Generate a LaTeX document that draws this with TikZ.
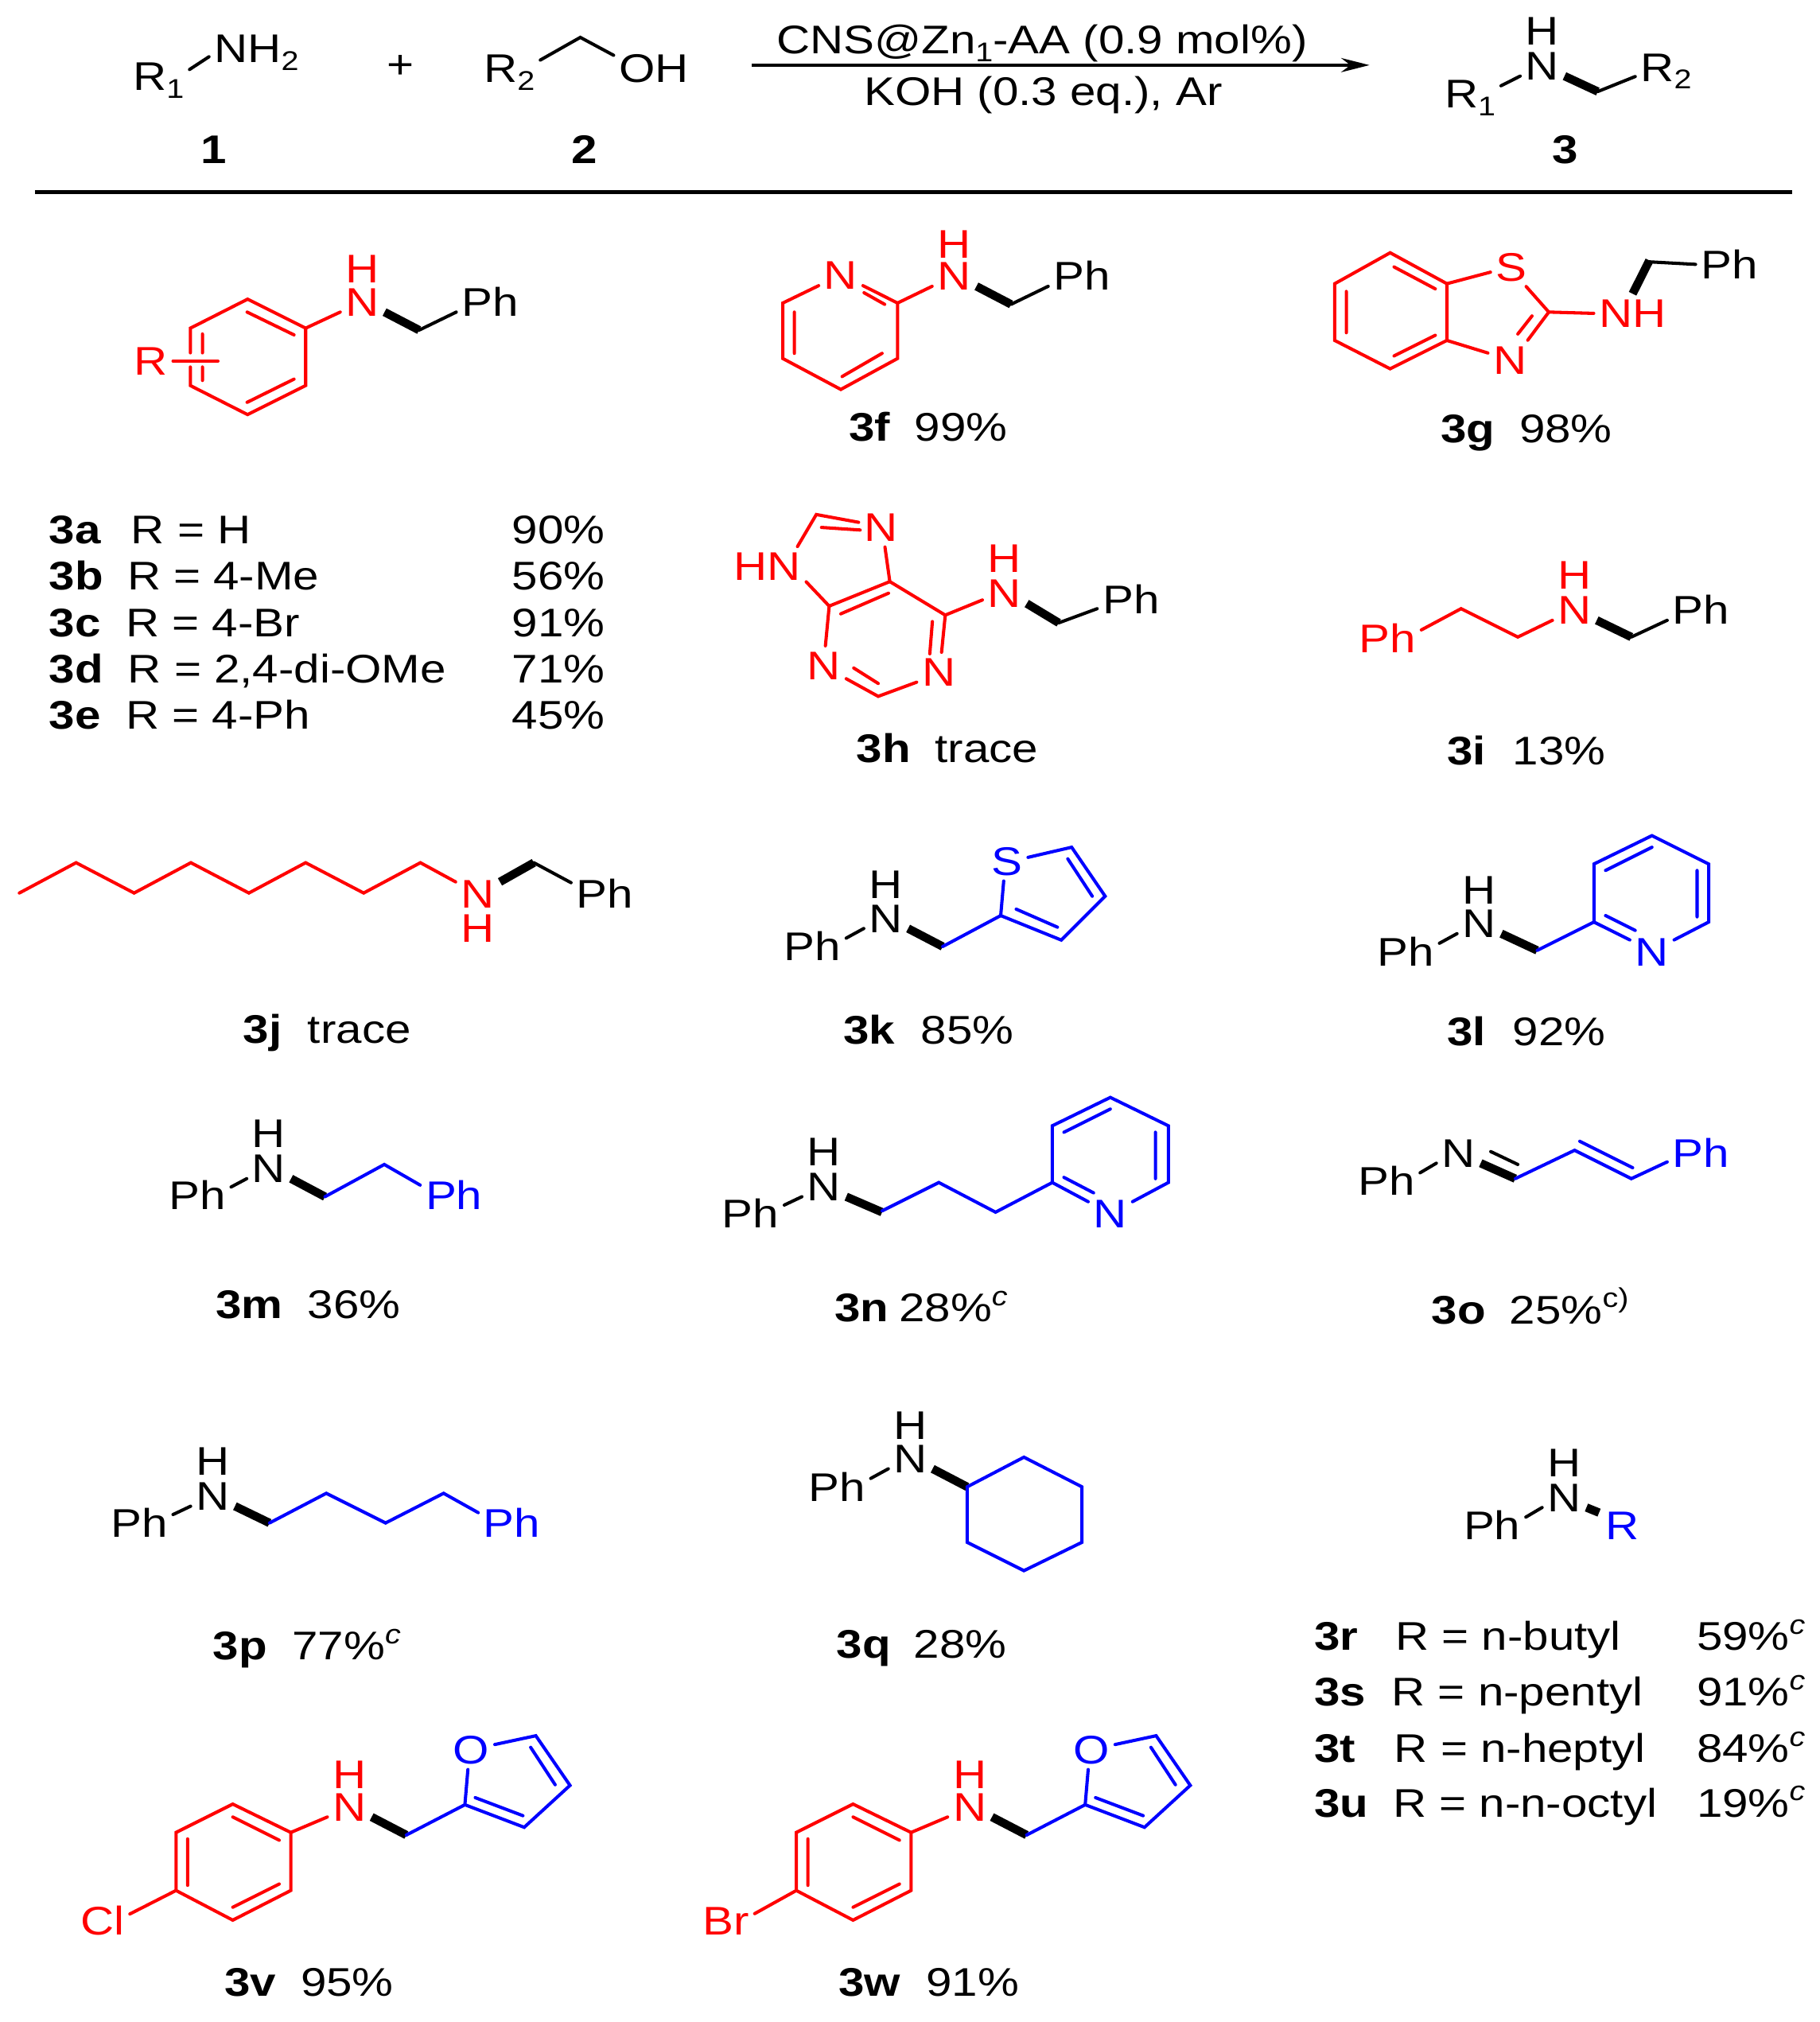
\documentclass[tikz,border=0pt]{standalone}
\usepackage{fontspec}
\usepackage{tikz}
\usetikzlibrary{arrows.meta}
\setmainfont[FakeStretch=1.16]{Liberation Sans}
\newcommand{\lowno}[1]{\raisebox{-6pt}{\fontsize{21}{24}\selectfont #1}}
\newcommand{\supc}{\raisebox{12.5pt}{\fontsize{21}{24}\selectfont\itshape c}}

\begin{document}
\begin{tikzpicture}[x=1pt,y=-1pt,
  every node/.style={font=\fontsize{31}{36}\selectfont},
  atom/.style={inner sep=4pt,text height=22pt,text depth=0pt},
  lab/.style={inner sep=0pt,anchor=base west},
  bond/.style={line width=2.5pt,line cap=round,line join=miter},
  wedge/.style={line width=6.5pt,line cap=butt},
  rule/.style={line width=2.6pt}]
  \useasboundingbox (0,0) rectangle (1411,1568);

  \node[atom] (r1) at (123,59) {R\lowno{1}};
  \node[atom] (nh2) at (199,37.5) {NH\lowno{2}};
  \draw[bond] (r1.12) -- (nh2.190);
  \node[atom] (plus) at (310.5,49.6) {+};
  \node[atom] (r2) at (395,53) {R\lowno{2}};
  \node[atom] (oh) at (507,53) {OH};
  \draw[bond] (r2.15) -- (450,29) -- (oh.162);
  \coordinate (arr0) at (583,50.5);
  \coordinate (arr1) at (1062,50.5);
  \draw[line width=2.5pt,-{Stealth[length=22pt,width=11pt]}] (arr0) -- (arr1);
  \node[atom] (cond1) at (808,30.5) {CNS@Zn\lowno{1}-AA (0.9 mol\%)};
  \node[atom] (cond2) at (809,70.5) {KOH (0.3 eq.), Ar};
  \node[atom] (r1p) at (1140,72.5) {R\lowno{1}};
  \node[atom] (np) at (1196,51) {N};
  \node[atom] (hp) at (1196,24) {H};
  \node[atom] (r2p) at (1292,52) {R\lowno{2}};
  \draw[bond] (r1p.14) -- (np.205);
  \draw[wedge] (np.-25) -- (1239,71);
  \draw[bond] (1239,71) -- (r2p.197);
  \node[atom] (no1) at (166,116) {\textbf{1}};
  \node[atom] (no2) at (453,116) {\textbf{2}};
  \node[atom] (no3) at (1214,116) {\textbf{3}};
  \coordinate (rule0) at (27,149);
  \coordinate (rule1) at (1390,149);
  \draw[rule] (rule0) -- (rule1);

  % 3a-3e
  \node[atom,red] (r3a) at (117,280) {R};
  \node[atom,red] (n3a) at (281,234) {N};
  \node[atom,red] (h3a) at (281,208) {H};
  \node[atom] (ph3a) at (380,234) {Ph};
  \draw[bond,red] (147.6,273.6) -- (147.6,254.5) -- (192,232) -- (237,254.5) -- (237,299) -- (192,321.5) -- (147.6,299) -- (147.6,284.6);
  \draw[bond,red] (191.6,242) -- (228,259.7) (228,294) -- (191.6,312) (157,259) -- (157,273.6) (157,284.6) -- (157,295);
  \draw[bond,red] (r3a.east) -- (169,280);
  \draw[bond,red] (237,254.5) -- (n3a.205);
  \draw[wedge] (n3a.-25) -- (325,256);
  \draw[bond] (325,256) -- (ph3a.197);
  \foreach \nm/\rr/\xr/\yy/\pc in {3a/H/101.5/421.5/90,3b/4-Me/98.5/457.5/56,3c/4-Br/97.5/493.5/91,3d/{2,4-di-OMe}/99/529.5/71,3e/4-Ph/97.5/565.5/45}{
    \node[lab] (lab\nm) at (38,\yy) {\textbf{\nm}};
    \node[lab] (sub\nm) at (\xr,\yy) {R = \rr};
    \node[lab] (yld\nm) at (397,\yy) {\pc\%};
  }

  % 3f
  \node[atom,red] (na3f) at (652,213.5) {N};
  \node[atom,red] (n3f) at (740,214) {N};
  \node[atom,red] (h3f) at (740,189) {H};
  \node[atom] (ph3f) at (839,214) {Ph};
  \draw[bond,red] (na3f.-25) -- (696,235) -- (696,278) -- (652,302) -- (607,278) -- (607,235) -- (na3f.205);
  \draw[bond,red] (670,227) -- (686,236) (684,274) -- (653,292) (616,242) -- (616,274);
  \draw[bond,red] (696,235) -- (n3f.205);
  \draw[wedge] (n3f.-25) -- (784,236);
  \draw[bond] (784,236) -- (ph3f.197);
  \node[lab] (lab3f) at (658,342) {\textbf{3f}};
  \node[lab] (yld3f) at (709,342) {99\%};

  % 3g
  \node[atom,red] (s3g) at (1172,207) {S};
  \node[atom,red] (na3g) at (1171,279) {N};
  \node[atom,red] (nh3g) at (1266,243) {NH};
  \node[atom] (ph3g) at (1341,205) {Ph};
  \draw[bond,red] (1122,220) -- (1078,196) -- (1035,220) -- (1035,264) -- (1078,286) -- (1122,264) -- cycle;
  \draw[bond,red] (1081,207) -- (1113,224) (1113,260) -- (1081,276) (1044,226) -- (1044,258);
  \draw[bond,red] (1122,220) -- (s3g.194) (1122,264) -- (na3g.163);
  \draw[bond,red] (s3g.-53) -- (1201,242) -- (na3g.48) (1177,259) -- (1188,245);
  \draw[bond,red] (1201,242) -- (nh3g.west);
  \draw[wedge] (nh3g.north) -- (1279,202);
  \draw[bond] (1278,203) -- (ph3g.west);
  \node[lab] (lab3g) at (1117,343) {\textbf{3g}};
  \node[lab] (yld3g) at (1178,343) {98\%};

  % 3h
  \node[atom,red] (n7) at (683,409) {N};
  \node[atom,red] (n9) at (595,439) {HN};
  \node[atom,red] (n3) at (639,516) {N};
  \node[atom,red] (n1) at (728,521) {N};
  \node[atom,red] (n3h) at (779,460) {N};
  \node[atom,red] (h3h) at (779,433) {H};
  \node[atom] (ph3h) at (877,465) {Ph};
  \draw[bond,red] (n7.167) -- (633,399) -- (n9.33);
  \draw[bond,red] (n9.-22) -- (643,470) -- (690,451) -- (n7.-78);
  \draw[bond,red] (637,409) -- (667,411) (652,476) -- (689,460);
  \draw[bond,red] (643,470) -- (n3.86);
  \draw[bond,red] (690,451) -- (733,477) -- (n1.82);
  \draw[bond,red] (n3.-31) -- (681,540) -- (n1.205);
  \draw[bond,red] (723,482) -- (721,507) (662,518) -- (681,530);
  \draw[bond,red] (733,477) -- (n3h.197);
  \draw[wedge] (n3h.-25) -- (821,483);
  \draw[bond] (821,483) -- (ph3h.195);
  \node[lab] (lab3h) at (664,591) {\textbf{3h}};
  \node[lab] (yld3h) at (725,591) {trace};

  % 3i
  \node[atom,red] (pha3i) at (1076,495) {Ph};
  \node[atom,red] (n3i) at (1221,473) {N};
  \node[atom,red] (h3i) at (1221,446) {H};
  \node[atom] (ph3i) at (1319,473) {Ph};
  \draw[bond,red] (pha3i.14) -- (1133,472) -- (1177,494) -- (n3i.205);
  \draw[wedge] (n3i.-25) -- (1265,494);
  \draw[bond] (1265,494) -- (ph3i.197);
  \node[lab] (lab3i) at (1122,593) {\textbf{3i}};
  \node[lab] (yld3i) at (1173,593) {13\%};

  % 3j
  \node[atom,red] (n3j) at (370.5,693) {N};
  \node[atom,red] (h3j) at (370.5,719.5) {H};
  \node[atom] (ph3j) at (469,693) {Ph};
  \draw[bond,red] (15,692.5) -- (59,669) -- (104,692.5) -- (148,669) -- (193,692.5) -- (237,669) -- (282,692.5) -- (326,669) -- (n3j.152);
  \draw[wedge] (n3j.28) -- (414,669);
  \draw[bond] (414,669) -- (ph3j.162);
  \node[lab] (lab3j) at (188.5,809) {\textbf{3j}};
  \node[lab] (yld3j) at (238.5,809) {trace};

  % 3k
  \node[atom] (ph3k) at (630,734) {Ph};
  \node[atom] (n3k) at (687,712) {N};
  \node[atom] (h3k) at (687,686) {H};
  \node[atom,blue] (s3k) at (781,668) {S};
  \draw[bond] (ph3k.14) -- (n3k.205);
  \draw[wedge] (n3k.-25) -- (731,734);
  \draw[bond,blue] (731,734) -- (776,710) -- (s3k.-100);
  \draw[bond,blue] (s3k.11) -- (831,657) -- (857,695) -- (823,729) -- (776,710);
  \draw[bond,blue] (828,666) -- (847,695) (788,705) -- (820,719);
  \node[lab] (lab3k) at (654,809.5) {\textbf{3k}};
  \node[lab] (yld3k) at (714,809.5) {85\%};

  % 3l
  \node[atom] (ph3l) at (1090,738) {Ph};
  \node[atom] (n3l) at (1147,716) {N};
  \node[atom] (h3l) at (1147,690) {H};
  \node[atom,blue] (na3l) at (1281,738) {N};
  \draw[bond] (ph3l.14) -- (n3l.205);
  \draw[wedge] (n3l.-25) -- (1192,737);
  \draw[bond,blue] (1192,737) -- (1236,715);
  \draw[bond,blue] (na3l.152) -- (1236,715) -- (1236,670) -- (1281,648) -- (1325,670) -- (1325,715) -- (na3l.28);
  \draw[bond,blue] (1245,675) -- (1281,657) (1316,675) -- (1316,711) (1245,710) -- (1268,721.5);
  \node[lab] (lab3l) at (1122,811) {\textbf{3l}};
  \node[lab] (yld3l) at (1173,811) {92\%};

  % 3m
  \node[atom] (ph3m) at (153,927) {Ph};
  \node[atom] (n3m) at (208.5,906) {N};
  \node[atom] (h3m) at (208.5,879) {H};
  \node[atom,blue] (pha3m) at (352,927) {Ph};
  \draw[bond] (ph3m.14) -- (n3m.205);
  \draw[wedge] (n3m.-25) -- (252,928);
  \draw[bond,blue] (252,928) -- (298,903) -- (pha3m.163);
  \node[lab] (lab3m) at (167,1022.5) {\textbf{3m}};
  \node[lab] (yld3m) at (238.5,1022.5) {36\%};

  % 3n
  \node[atom] (ph3n) at (582,941) {Ph};
  \node[atom] (n3n) at (639,920) {N};
  \node[atom] (h3n) at (639,893) {H};
  \node[atom,blue] (na3n) at (861,941) {N};
  \draw[bond] (ph3n.14) -- (n3n.205);
  \draw[wedge] (n3n.-25) -- (684,940);
  \draw[bond,blue] (684,939) -- (728,917) -- (772,940) -- (816,917);
  \draw[bond,blue] (na3n.152) -- (816,917) -- (816,873) -- (861,851) -- (906,873) -- (906,917) -- (na3n.28);
  \draw[bond,blue] (825,878) -- (861,860) (896,878) -- (896,914) (825,913) -- (848,925);
  \node[lab] (lab3n) at (647,1025) {\textbf{3n}};
  \node[lab] (yld3n) at (697,1025) {28\%\supc};

  % 3o
  \node[atom] (ph3o) at (1075,916) {Ph};
  \node[atom] (n3o) at (1131,894) {N};
  \node[atom,blue] (pha3o) at (1319,894) {Ph};
  \draw[bond] (ph3o.14) -- (n3o.205);
  \draw[wedge] (n3o.-25) -- (1175,914);
  \draw[bond] (1156,893) -- (1177,903);
  \draw[bond,blue] (1175,914) -- (1221,892) -- (1265,914) -- (pha3o.195) (1225,885) -- (1266,905.5);
  \node[lab] (lab3o) at (1110,1026.5) {\textbf{3o}};
  \node[lab] (yld3o) at (1170.5,1026.5) {25\%\raisebox{12.5pt}{\fontsize{21}{24}\selectfont c)}};

  % 3p
  \node[atom] (ph3p) at (108,1181) {Ph};
  \node[atom] (n3p) at (165,1160) {N};
  \node[atom] (h3p) at (165,1133) {H};
  \node[atom,blue] (pha3p) at (397,1181) {Ph};
  \draw[bond] (ph3p.14) -- (n3p.205);
  \draw[wedge] (n3p.-25) -- (209,1181);
  \draw[bond,blue] (209,1181) -- (253,1158) -- (299,1181) -- (344,1158) -- (pha3p.163);
  \node[lab] (lab3p) at (165,1287) {\textbf{3p}};
  \node[lab] (yld3p) at (226.5,1287) {77\%\supc};

  % 3q
  \node[atom] (ph3q) at (649,1153) {Ph};
  \node[atom] (n3q) at (706,1131) {N};
  \node[atom] (h3q) at (706,1105) {H};
  \draw[bond] (ph3q.14) -- (n3q.205);
  \draw[wedge] (n3q.-25) -- (750,1153);
  \draw[bond,blue] (750,1153) -- (794,1130) -- (839,1153) -- (839,1196) -- (794,1218) -- (750,1196) -- cycle;
  \node[lab] (lab3q) at (648.5,1285.5) {\textbf{3q}};
  \node[lab] (yld3q) at (708.5,1285.5) {28\%};

  % 3r-3u
  \node[atom] (ph3r) at (1157,1183) {Ph};
  \node[atom] (n3r) at (1213,1161) {N};
  \node[atom] (h3r) at (1213,1134) {H};
  \node[atom,blue] (r3r) at (1258,1183) {R};
  \draw[bond] (ph3r.14) -- (n3r.205);
  \draw[wedge] (n3r.-25) -- (1240,1173);
  \foreach \nm/\rr/\xr/\yy/\pc in {3r/n-butyl/1082/1279.5/59,3s/n-pentyl/1079/1323/91,3t/n-heptyl/1081/1366.5/84,3u/n-n-octyl/1080/1409/19}{
    \node[lab] (lab\nm) at (1019,\yy) {\textbf{\nm}};
    \node[lab] (sub\nm) at (\xr,\yy) {R = \rr};
    \node[lab] (yld\nm) at (1315.5,\yy) {\pc\%\supc};
  }

  % 3v, 3w
  \foreach \sx/\hal/\hx/\nm in {-1.5/Cl/81/3v,479.5/Br/83.5/3w}{
    \begin{scope}[xshift=\sx pt]
      \node[atom,red] (hal\nm) at (\hx,1489.5) {\hal};
      \node[atom,red] (n\nm) at (272.5,1401) {N};
      \node[atom,red] (h\nm) at (272.5,1376) {H};
      \node[atom,blue] (o\nm) at (367,1357) {O};
      \draw[bond,red] (227,1421) -- (182,1399) -- (138,1421) -- (138,1466) -- (182,1489) -- (227,1466) -- cycle;
      \draw[bond,red] (182,1409) -- (218,1427) (147,1426) -- (147,1462) (218,1461) -- (182,1479);
      \draw[bond,red] (138,1466) -- (hal\nm.14);
      \draw[bond,red] (227,1421) -- (n\nm.205);
      \draw[wedge] (n\nm.-25) -- (316.6,1423);
      \draw[bond,blue] (316.6,1423) -- (362,1399.5) -- (o\nm.-100);
      \draw[bond,blue] (o\nm.13) -- (417,1346) -- (443.5,1384.5) -- (408,1417) -- (362,1399.5);
      \draw[bond,blue] (413,1355) -- (432,1384) (370,1394) -- (407,1408);
    \end{scope}
  }
  \node[lab] (lab3v) at (174,1548) {\textbf{3v}};
  \node[lab] (yld3v) at (233,1548) {95\%};
  \node[lab] (lab3w) at (650,1548) {\textbf{3w}};
  \node[lab] (yld3w) at (718,1548) {91\%};
\end{tikzpicture}
\end{document}
